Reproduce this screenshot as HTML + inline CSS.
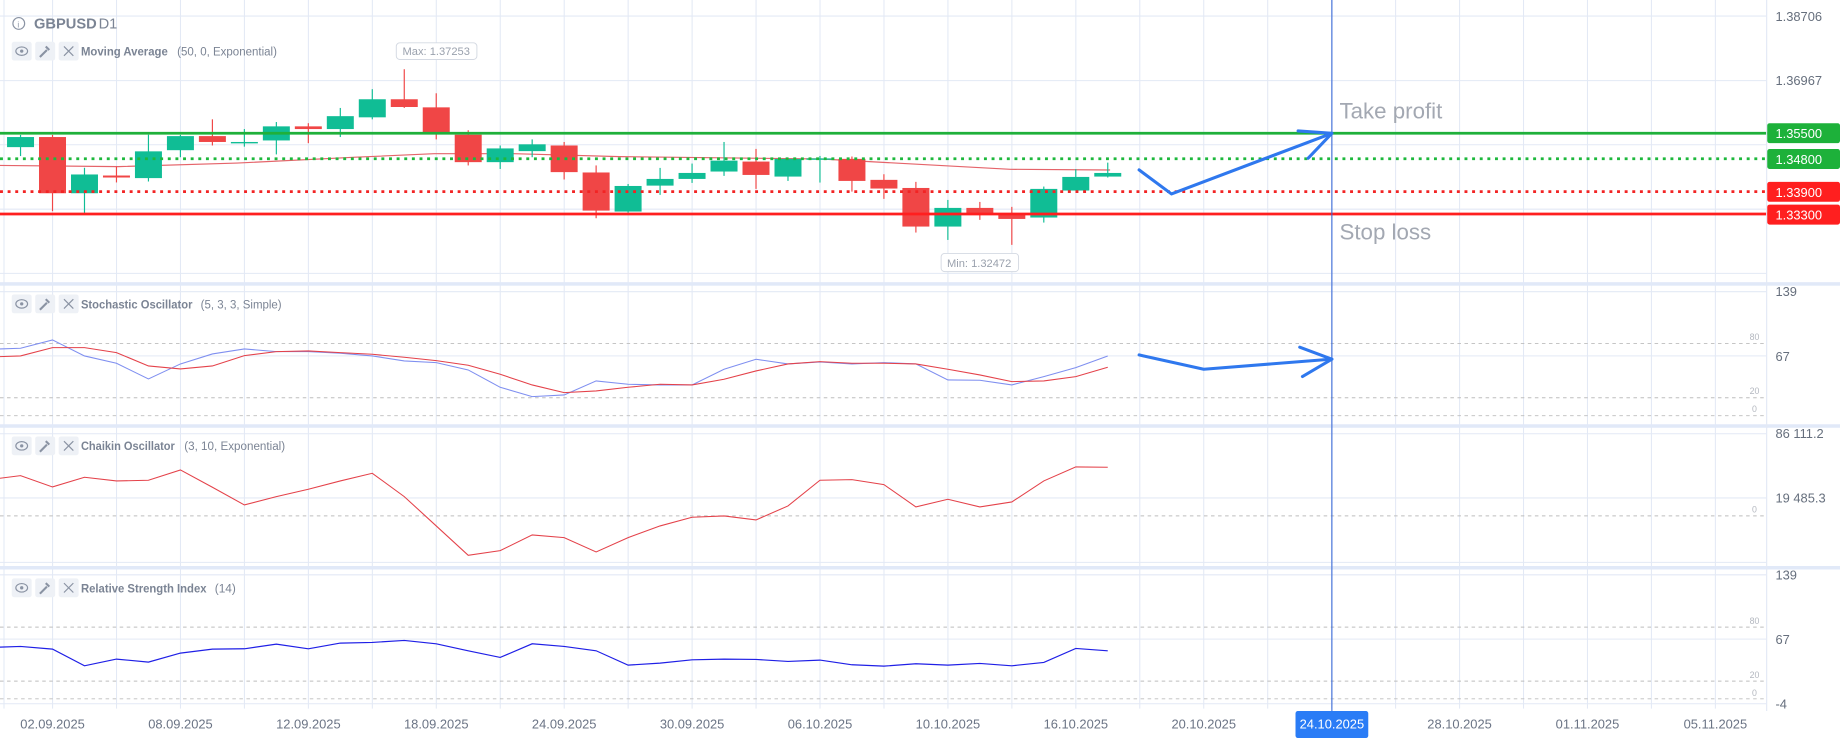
<!DOCTYPE html>
<html><head><meta charset="utf-8"><style>
html,body{margin:0;padding:0;background:#fff;}
svg{display:block;}
text{font-family:"Liberation Sans",sans-serif;}
</style></head><body>
<svg id="s" width="1840" height="738" viewBox="0 0 1568 629" preserveAspectRatio="none" xmlns="http://www.w3.org/2000/svg">
<rect width="1568" height="629" fill="#fff"/>
<g id="grid" stroke="#e3e9f5" stroke-width="0.9"></g>
<g id="dash" stroke="#bdbdbd" stroke-width="0.8" stroke-dasharray="3,3"></g>
<rect x="0" y="240.5" width="1568" height="3" fill="#e1e9f8"/>
<rect x="0" y="361.6" width="1568" height="3" fill="#e1e9f8"/>
<rect x="0" y="482.4" width="1568" height="3" fill="#e1e9f8"/>
<g id="series"></g>
<line x1="0" y1="113.6" x2="1506" y2="113.6" stroke="#1fb03a" stroke-width="2.3"/>
<line x1="0" y1="135.3" x2="1506" y2="135.3" stroke="#1db83c" stroke-width="2.3" stroke-dasharray="2.5,4"/>
<line x1="0" y1="163.3" x2="1506" y2="163.3" stroke="#f22424" stroke-width="2.3" stroke-dasharray="2.5,4"/>
<line x1="0" y1="182.4" x2="1506" y2="182.4" stroke="#ff1f1f" stroke-width="2.3"/>
<line x1="1135" y1="0" x2="1135" y2="606" stroke="#3566d6" stroke-width="0.9"/>
<g fill="none" stroke="#2f78ee" stroke-width="2.6" stroke-linecap="round" stroke-linejoin="round">
<polyline points="970.7,144.8 998.3,165.3 1135,113.6"/>
<polyline points="1106.2,111.6 1135,113.6 1114.7,134.9"/>
<polyline points="970.7,302.5 1025.8,314.7 1135,306.1"/>
<polyline points="1107.6,295.9 1135,306.1 1109.9,320.9"/>
</g>
<line x1="1505.5" y1="0" x2="1505.5" y2="606" stroke="#e3e9f5" stroke-width="1"/>
<g fill="#7b8494" font-size="11">
<circle cx="16" cy="20" r="5" fill="none" stroke="#8a93a3" stroke-width="1"/>
<text x="14.8" y="23.5" font-size="7" fill="#8a93a3">i</text>
<text x="29" y="24.5" font-size="12.5" font-weight="bold">GBPUSD</text>
<text x="84" y="24.5" font-size="12.5">D1</text>
</g>
<g id="hdrs"></g>
<g font-size="10.5" fill="#7b8494">
<text x="69" y="47.5" font-weight="bold" textLength="74" lengthAdjust="spacingAndGlyphs">Moving Average</text><text x="151" y="47.5" textLength="85" lengthAdjust="spacingAndGlyphs">(50, 0, Exponential)</text>
<text x="69" y="262.8" font-weight="bold" textLength="95" lengthAdjust="spacingAndGlyphs">Stochastic Oscillator</text><text x="171" y="262.8" textLength="69" lengthAdjust="spacingAndGlyphs">(5, 3, 3, Simple)</text>
<text x="69" y="383.6" font-weight="bold" textLength="80" lengthAdjust="spacingAndGlyphs">Chaikin Oscillator</text><text x="157" y="383.6" textLength="86" lengthAdjust="spacingAndGlyphs">(3, 10, Exponential)</text>
<text x="69" y="504.8" font-weight="bold" textLength="107" lengthAdjust="spacingAndGlyphs">Relative Strength Index</text><text x="183" y="504.8" textLength="18" lengthAdjust="spacingAndGlyphs">(14)</text>
</g>
<rect x="337.7" y="36.5" width="68.7" height="14.2" rx="3" fill="#fff" stroke="#d4d9e2" stroke-width="0.8"/>
<text x="343" y="47" font-size="9.5" fill="#9aa1ad">Max: 1.37253</text>
<rect x="802" y="216" width="66" height="15.5" rx="3" fill="#fff" stroke="#d4d9e2" stroke-width="0.8"/>
<text x="807" y="227.5" font-size="9.5" fill="#9aa1ad">Min: 1.32472</text>
<text x="1141.5" y="101" font-size="19" fill="#a3a8b2">Take profit</text>
<text x="1141.5" y="204" font-size="19" fill="#a3a8b2">Stop loss</text>
<g font-size="11" fill="#666f7d">
<text x="1513" y="18">1.38706</text>
<text x="1513" y="72.5">1.36967</text>
<text x="1513" y="252.5">139</text>
<text x="1513" y="307.5">67</text>
<text x="1513" y="373.5">86 111.2</text>
<text x="1513" y="428.5">19 485.3</text>
<text x="1513" y="494">139</text>
<text x="1513" y="549">67</text>
<text x="1513" y="604">-4</text>
</g>
<g font-size="7.5" fill="#b3b7bf">
<text x="1491" y="290">80</text><text x="1491" y="336">20</text><text x="1493" y="351">0</text>
<text x="1493" y="437">0</text>
<text x="1491" y="532">80</text><text x="1491" y="578">20</text><text x="1493" y="593">0</text>
</g>
<g font-size="11" fill="#fff">
<rect x="1506" y="105" width="62" height="17" rx="2" fill="#1db13a"/><text x="1513" y="117.7">1.35500</text>
<rect x="1506" y="127" width="62" height="17" rx="2" fill="#1db13a"/><text x="1513" y="139.7">1.34800</text>
<rect x="1506" y="155" width="62" height="17" rx="2" fill="#ff1f1f"/><text x="1513" y="167.7">1.33900</text>
<rect x="1506" y="174.4" width="62" height="17" rx="2" fill="#ff1f1f"/><text x="1513" y="187.1">1.33300</text>
</g>
<rect x="1104" y="606" width="62" height="23" rx="2" fill="#2a7cf6"/>
<g font-size="11" fill="#6b7485" text-anchor="middle">
<text x="44.8" y="621">02.09.2025</text>
<text x="153.8" y="621">08.09.2025</text>
<text x="262.8" y="621">12.09.2025</text>
<text x="371.8" y="621">18.09.2025</text>
<text x="480.8" y="621">24.09.2025</text>
<text x="589.8" y="621">30.09.2025</text>
<text x="698.8" y="621">06.10.2025</text>
<text x="807.8" y="621">10.10.2025</text>
<text x="916.8" y="621">16.10.2025</text>
<text x="1025.8" y="621">20.10.2025</text>
<text x="1135" y="621" fill="#fff">24.10.2025</text>
<text x="1243.8" y="621">28.10.2025</text>
<text x="1352.8" y="621">01.11.2025</text>
<text x="1461.8" y="621">05.11.2025</text>
</g>
</svg>
<script>
(function(){
var NS="http://www.w3.org/2000/svg";
function el(p,t,a){var e=document.createElementNS(NS,t);for(var k in a)e.setAttribute(k,a[k]);p.appendChild(e);return e;}
var g=document.getElementById('grid'),d=document.getElementById('dash'),s=document.getElementById('series'),h=document.getElementById('hdrs');
[3.4].concat(Array.from({length:27},function(_,k){return 44.8+54.5*k;})).forEach(function(x){el(g,'line',{x1:x,y1:0,x2:x,y2:604});});
[13.7,68.7,123.4,178.3,233,248.6,303.3,369.7,424.4,479.3,489.9,544.7,599.8].forEach(function(y){el(g,'line',{x1:0,y1:y,x2:1505,y2:y});});
[292.7,339,354.3,439.7,534.5,580.5,595.6].forEach(function(y){el(d,'line',{x1:0,y1:y,x2:1504,y2:y});});
[43.6,259,380,501].forEach(function(y){
 [10,30,50].forEach(function(x,i){el(h,'rect',{x:x,y:y-8,width:17,height:16,rx:2,fill:'#eef1f6'});});
 el(h,'ellipse',{cx:18.5,cy:y,rx:5,ry:3.6,fill:'none',stroke:'#8a93a3','stroke-width':1});
 el(h,'circle',{cx:18.5,cy:y,r:1.4,fill:'#8a93a3'});
 el(h,'path',{d:'M34 '+(y+5)+' L40 '+(y-1)+' M39 '+(y-4)+' l3 3',stroke:'#8a93a3','stroke-width':1.8,fill:'none'});
 el(h,'path',{d:'M54.5 '+(y-4)+' l8 8 M62.5 '+(y-4)+' l-8 8',stroke:'#8a93a3','stroke-width':1,fill:'none'});
});
el(s,'polyline',{points:'0,141 101,142 202,139 303,134 370,131 438,131 528,133.5 700,135.5 861,144.3 946,144.9',fill:'none',stroke:'#e5646a','stroke-width':1});
var C=[[1,116.8,125.4,115,133],[0,116.8,164.7,115,180],[1,148.7,164.7,143,181.8],[0,149.6,151.3,142,155.5],[1,129,151.8,114.8,154.7],[1,116,128,115,134],[0,116,121,101.7,124],[1,121,122,110,125],[1,107.7,119.7,104,131.6],[0,107.7,110,105,122],[1,99,110,92,116.8],[1,84.6,100,76,101.7],[0,84.6,91.2,59,92],[0,91.5,112.8,79.5,118.8],[0,114.8,138.2,111,141],[1,126.5,138.2,124,144],[1,123,128.8,118.8,134],[0,124,146.7,121,153],[0,147,179.5,141,186],
[1,158.5,180.3,156.8,181.2],[1,152.5,158.2,143.1,166.1],[1,147.4,152.5,139.4,155.9],[1,136.9,146.2,121,149.9],[0,137.7,149.1,126.9,161],[1,135.4,150.5,135.4,154.2],[1,135,136,132.9,155.6],[0,135.4,154.2,133.4,163.3],[0,153.3,160.7,148.5,169.5],[0,160.2,193.1,155,198.2],[1,177.2,193.1,170.4,204.5],[0,177.2,181.7,172.1,187.4],[0,182.3,186.6,176.3,208.7],[1,161,185.4,159,189.7],[1,150.8,162.4,144.2,162.4],[1,147.4,150.5,138.6,151.3]];
C.forEach(function(c,i){var x=17.5+27.25*i,col=c[0]?'#10bd95':'#f04646';
 el(s,'line',{x1:x,y1:c[3],x2:x,y2:c[4],stroke:col,'stroke-width':1});
 el(s,'rect',{x:x-11.5,y:c[1],width:23,height:Math.max(1.2,c[2]-c[1]),fill:col});});
function line(arr,left,off,col,w){var p=['0,'+(off+left/3.52)];arr.forEach(function(z,i){p.push((17.5+27.25*i)+','+(off+z/3.52));});
 el(s,'polyline',{points:p.join(' '),fill:'none',stroke:col,'stroke-width':w});}
line([205,180,228,250,297,252,222,207,215,215,220,228,243,248,270,322,350,345,303,313,315,315,268,238,252,246,252,248,252,300,301,315,290,263,228],207,238.6,'#7f8ff0',0.9);
line([228,203,203,218,258,267,258,227,215,213,218,223,232,242,256,283,315,338,333,322,313,315,298,273,252,245,250,250,252,268,285,305,303,290,262],230,238.6,'#e4424a',0.9);
line([587,621,592,603,601,570,622,675,650,628,603,580,650,738,826,812,765,773,816,773,738,712,708,720,678,601,599,614,681,658,681,666,603,561,562],595,238.6,'#e4424a',0.9);
line([260,268,318,298,307,280,268,267,253,267,250,248,242,252,273,293,252,260,273,316,310,300,298,299,305,301,315,319,312,316,311,318,308,266,273],262,477.1,'#1f1fe6',1);
})();
</script>
</body></html>
